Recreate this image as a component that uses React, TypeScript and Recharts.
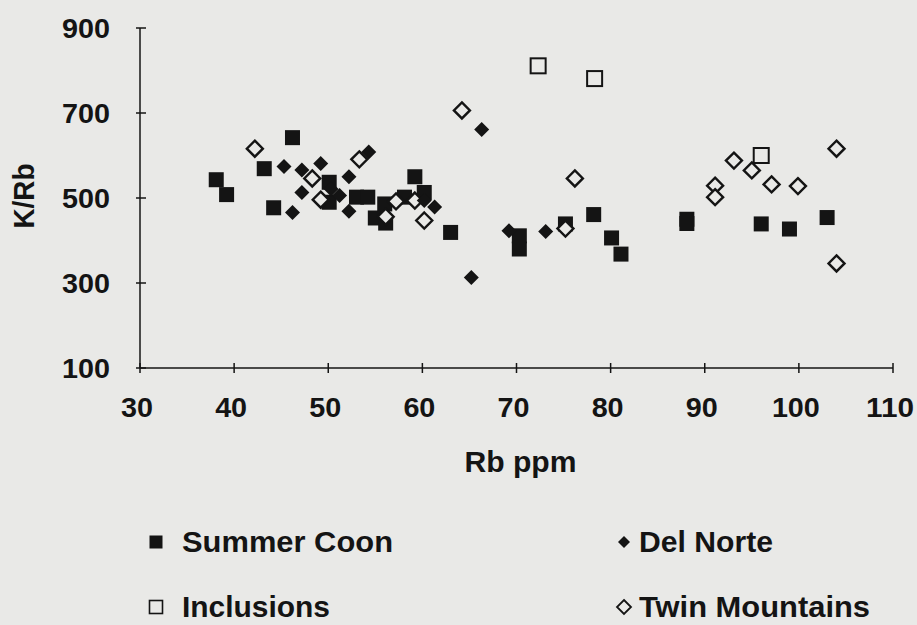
import React from "react"
import { ScatterChart, Scatter, XAxis, YAxis, Legend } from "recharts"

const INK = "#141414"
const PAPER = "#e9e9e7"
const FONT = "'Liberation Sans', Arial, Helvetica, sans-serif"

const xTicks = [30, 40, 50, 60, 70, 80, 90, 100, 110]
const yTicks = [100, 300, 500, 700, 900]

// [Rb ppm, K/Rb]
const summerCoon: [number, number][] = [
  [38.1, 543], [39.2, 508], [43.2, 569], [44.2, 477], [46.2, 642],
  [50.1, 537], [50.1, 490], [53.0, 502], [54.2, 502], [55.0, 453],
  [56.0, 486], [56.1, 441], [58.1, 502], [59.2, 550], [60.2, 513],
  [63.0, 419], [70.3, 411], [70.3, 380], [75.2, 439], [78.2, 461],
  [80.1, 406], [81.1, 368], [88.1, 450], [88.1, 440], [96.0, 439],
  [99.0, 427], [103.0, 454],
]

const delNorte: [number, number][] = [
  [45.3, 574], [46.2, 466], [47.2, 566], [47.2, 513], [49.2, 581],
  [50.3, 521], [51.2, 506], [52.2, 550], [52.2, 469], [54.3, 608],
  [60.2, 494], [61.3, 479], [65.2, 313], [66.3, 661], [69.2, 423],
  [73.1, 421],
]

const inclusions: [number, number][] = [
  [72.3, 811], [78.3, 781], [96.0, 600],
]

const twinMountains: [number, number][] = [
  [42.2, 616], [48.3, 546], [49.2, 496], [53.3, 591], [56.1, 456],
  [57.2, 492], [59.2, 494], [60.2, 447], [64.2, 706], [75.2, 428],
  [76.2, 546], [91.1, 529], [91.1, 502], [93.1, 588], [95.0, 565],
  [97.1, 532], [99.9, 528], [104.0, 616], [104.0, 346],
]

const legendNames = ["Summer Coon", "Del Norte", "Inclusions", "Twin Mountains"]

const toPoints = (rows: [number, number][]) => rows.map(([rb, krb]) => ({ rb, krb }))

const diamondPath = (cx: number, cy: number, r: number) =>
  `M${cx},${cy - r}L${cx + r},${cy}L${cx},${cy + r}L${cx - r},${cy}Z`

const FilledSquare = ({ cx, cy }: any) => (
  <rect x={cx - 7.5} y={cy - 7.5} width={15} height={15} fill={INK} />
)
const OpenSquare = ({ cx, cy }: any) => (
  <rect x={cx - 7.5} y={cy - 7.5} width={15} height={15} fill={PAPER} stroke={INK} strokeWidth={2} />
)
const FilledDiamond = ({ cx, cy }: any) => <path d={diamondPath(cx, cy, 7.5)} fill={INK} />
const OpenDiamond = ({ cx, cy }: any) => (
  <path d={diamondPath(cx, cy, 8)} fill={PAPER} stroke={INK} strokeWidth={2.4} />
)

const textStyle = { fontFamily: FONT, fontWeight: 700, fill: INK }

const XTick = ({ x, y, payload }: any) => {
  const label = String(payload.value)
  return (
    <g>
      <line x1={x} x2={x} y1={y - 5} y2={y + 5} stroke={INK} strokeWidth={1.5} />
      <text
        x={x - 3}
        y={y + 49}
        textAnchor="middle"
        fontSize={27}
        textLength={label.length * 16}
        lengthAdjust="spacingAndGlyphs"
        style={textStyle}
      >
        {label}
      </text>
    </g>
  )
}

const YTick = ({ x, y, payload }: any) => {
  const label = String(payload.value)
  return (
    <g>
      <line x1={x - 4} x2={x + 6} y1={y} y2={y} stroke={INK} strokeWidth={1.5} />
      <text
        x={x - 30}
        y={y + 9.5}
        textAnchor="end"
        fontSize={27}
        textLength={label.length * 16}
        lengthAdjust="spacingAndGlyphs"
        style={textStyle}
      >
        {label}
      </text>
    </g>
  )
}

const XLabel = ({ viewBox }: any) => (
  <text
    x={viewBox.x + viewBox.width / 2 + 4}
    y={viewBox.y + 104}
    textAnchor="middle"
    fontSize={29}
    textLength={112}
    lengthAdjust="spacingAndGlyphs"
    style={textStyle}
  >
    Rb ppm
  </text>
)

const YLabel = () => (
  <text
    x={0}
    y={0}
    transform="translate(34,196) rotate(-90)"
    textAnchor="middle"
    fontSize={29}
    textLength={65}
    lengthAdjust="spacingAndGlyphs"
    style={textStyle}
  >
    K/Rb
  </text>
)

const legendWidths: { [k: string]: number } = {
  "Summer Coon": 211,
  "Del Norte": 134,
  Inclusions: 148,
  "Twin Mountains": 231,
}

const renderLegend = () => (
  <svg width={917} height={115} style={{ display: "block" }}>
    {legendNames.map((name, i) => {
      const col = i % 2
      const row = Math.floor(i / 2)
      const mx = col === 0 ? 156 : 624
      const my = row === 0 ? 32 : 97
      const tx = col === 0 ? 182 : 639
      const ty = row === 0 ? 42 : 107
      let marker
      if (i === 0) marker = <rect x={mx - 6.5} y={my - 6.5} width={13} height={13} fill={INK} />
      else if (i === 1) marker = <path d={diamondPath(mx, my, 6)} fill={INK} />
      else if (i === 2)
        marker = <rect x={mx - 6.5} y={my - 6.5} width={13} height={13} fill="none" stroke={INK} strokeWidth={1.6} />
      else marker = <path d={diamondPath(mx, my, 7)} fill="none" stroke={INK} strokeWidth={1.8} />
      return (
        <g key={name}>
          {marker}
          <text
            x={tx}
            y={ty}
            fontSize={29}
            textLength={legendWidths[name]}
            lengthAdjust="spacingAndGlyphs"
            style={textStyle}
          >
            {name}
          </text>
        </g>
      )
    })}
  </svg>
)

export default function App() {
  return (
    <div style={{ width: 917, height: 625, background: PAPER, position: "relative" }}>
      <style>{`body{margin:0;background:${PAPER};}`}</style>
      <ScatterChart
        width={917}
        height={625}
        margin={{ top: 28, right: 24, bottom: 157, left: 0 }}
      >
        <XAxis
          type="number"
          dataKey="rb"
          domain={[30, 110]}
          ticks={xTicks}
          interval={0}
          height={100}
          tickSize={0}
          tickMargin={0}
          tick={<XTick />}
          axisLine={{ stroke: INK, strokeWidth: 1.5 }}
          label={<XLabel />}
        />
        <YAxis
          type="number"
          dataKey="krb"
          domain={[100, 900]}
          ticks={yTicks}
          interval={0}
          width={140}
          tickSize={0}
          tickMargin={0}
          tick={<YTick />}
          axisLine={{ stroke: INK, strokeWidth: 1.5 }}
          label={<YLabel />}
        />
        <Legend
          layout="horizontal"
          verticalAlign="middle"
          align="center"
          content={renderLegend}
          wrapperStyle={{ position: "absolute", top: 510, left: 0, width: 917, height: 115 }}
        />
        <Scatter name="Summer Coon" data={toPoints(summerCoon)} shape={<FilledSquare />} isAnimationActive={false} />
        <Scatter name="Twin Mountains" data={toPoints(twinMountains)} shape={<OpenDiamond />} isAnimationActive={false} />
        <Scatter name="Inclusions" data={toPoints(inclusions)} shape={<OpenSquare />} isAnimationActive={false} />
        <Scatter name="Del Norte" data={toPoints(delNorte)} shape={<FilledDiamond />} isAnimationActive={false} />
      </ScatterChart>
    </div>
  )
}
